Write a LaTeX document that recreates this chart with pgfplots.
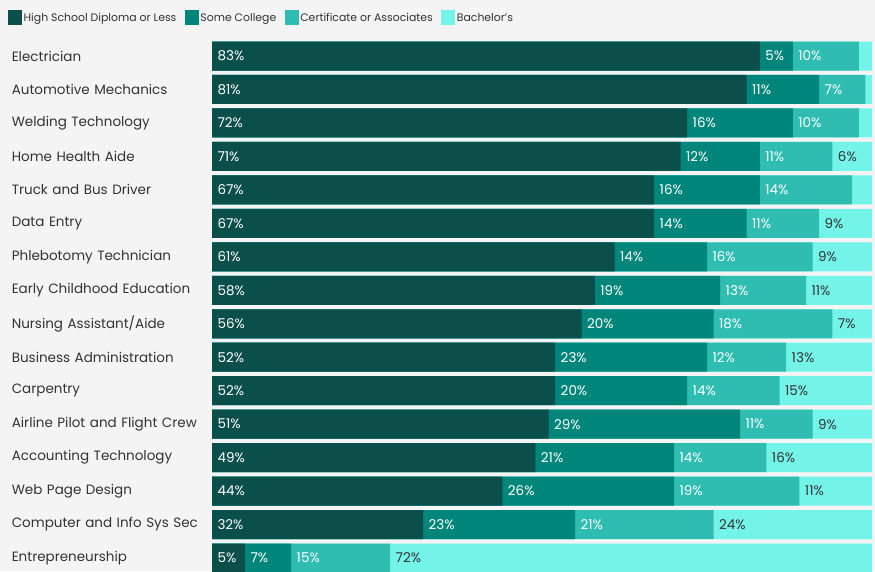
\documentclass[border=0pt]{standalone}
\usepackage{pgfplots}
\usepackage{pgfplotstable}
\pgfplotsset{compat=1.18}
\usepackage{fontspec}
\setmainfont{Poppins}
\definecolor{bg}{HTML}{F4F4F4}
\definecolor{cA}{HTML}{0B4F4A}
\definecolor{cB}{HTML}{00857A}
\definecolor{cC}{HTML}{2FBDB1}
\definecolor{cD}{HTML}{74F3E9}
\definecolor{txt}{HTML}{333333}
\pgfplotstableread[col sep=comma]{
idx,name,a,b,c,d,la,lb,lc,ld
0,Electrician,83,5,10,2,83\%,5\%,10\%,{}
1,Automotive Mechanics,81,11,7,1,81\%,11\%,7\%,{}
2,Welding Technology,72,16,10,2,72\%,16\%,10\%,{}
3,Home Health Aide,71,12,11,6,71\%,12\%,11\%,6\%
4,Truck and Bus Driver,67,16,14,3,67\%,16\%,14\%,{}
5,Data Entry,67,14,11,8,67\%,14\%,11\%,9\%
6,Phlebotomy Technician,61,14,16,9,61\%,14\%,16\%,9\%
7,Early Childhood Education,58,19,13,10,58\%,19\%,13\%,11\%
8,Nursing Assistant/Aide,56,20,18,6,56\%,20\%,18\%,7\%
9,Business Administration,52,23,12,13,52\%,23\%,12\%,13\%
10,Carpentry,52,20,14,14,52\%,20\%,14\%,15\%
11,Airline Pilot and Flight Crew,51,29,11,9,51\%,29\%,11\%,9\%
12,Accounting Technology,49,21,14,16,49\%,21\%,14\%,16\%
13,Web Page Design,44,26,19,11,44\%,26\%,19\%,11\%
14,Computer and Info Sys Sec,32,23,21,24,32\%,23\%,21\%,24\%
15,Entrepreneurship,5,7,15,73,5\%,7\%,15\%,72\%
}\data
\begin{document}
\begin{tikzpicture}
\fill[bg] (0,0) rectangle (875pt,-571pt);
\begin{axis}[
  at={(212pt,-39.27pt)}, anchor=north west,
  scale only axis, width=660pt, height=531.8pt,
  xmin=0, xmax=100, ymin=-0.5, ymax=15.39, y dir=reverse,
  xtick=\empty, ytick={0,...,15},
  yticklabels from table={\data}{name},
  yticklabel style={text width=200pt, align=left, inner xsep=0pt,
    font=\fontsize{13.5}{16}\selectfont, text=txt},
  axis line style={draw=none}, major tick length=0pt,
  legend columns=-1,
  legend style={at={(axis description cs:-0.3091,1)}, anchor=west, yshift=21.5pt,
    draw=none, fill=none, inner sep=0pt,
    font=\fontsize{10.9}{14}\selectfont, text=txt,
    nodes={inner xsep=1.5pt},
    /tikz/every even column/.append style={column sep=7pt}},
  legend image code/.code={\fill[#1, draw=none] (0pt,-7.5pt) rectangle (14pt,7.5pt);},
  bar width=29pt,
  lbl/.style={draw=none, mark=none, forget plot, nodes near coords,
    point meta=explicit symbolic,
    every node near coord/.append style={anchor=west, xshift=2pt,
      font=\fontsize{13.5}{15}\selectfont, text=#1}},
]
\addlegendimage{fill=cA}
\addlegendimage{fill=cB}
\addlegendimage{fill=cC}
\addlegendimage{fill=cD}
\legend{High School Diploma or Less, Some College, Certificate or Associates, Bachelor's}
\addplot[xbar, bar shift=0pt, fill=cD, draw=none, forget plot]
  table[x expr=\thisrow{a}+\thisrow{b}+\thisrow{c}+\thisrow{d}, y=idx]{\data};
\addplot[xbar, bar shift=0pt, fill=cC, draw=none, forget plot]
  table[x expr=\thisrow{a}+\thisrow{b}+\thisrow{c}, y=idx]{\data};
\addplot[xbar, bar shift=0pt, fill=cB, draw=none, forget plot]
  table[x expr=\thisrow{a}+\thisrow{b}, y=idx]{\data};
\addplot[xbar, bar shift=0pt, fill=cA, draw=none, forget plot]
  table[x=a, y=idx]{\data};
\addplot[lbl=white] table[x expr=0, y=idx, meta=la]{\data};
\addplot[lbl=white] table[x expr=\thisrow{a}, y=idx, meta=lb]{\data};
\addplot[lbl=white] table[x expr=\thisrow{a}+\thisrow{b}, y=idx, meta=lc]{\data};
\addplot[lbl=txt] table[x expr=\thisrow{a}+\thisrow{b}+\thisrow{c}, y=idx, meta=ld]{\data};
\end{axis}
\pgfresetboundingbox
\useasboundingbox (0,0) rectangle (875pt,-571pt);
\end{tikzpicture}
\end{document}
